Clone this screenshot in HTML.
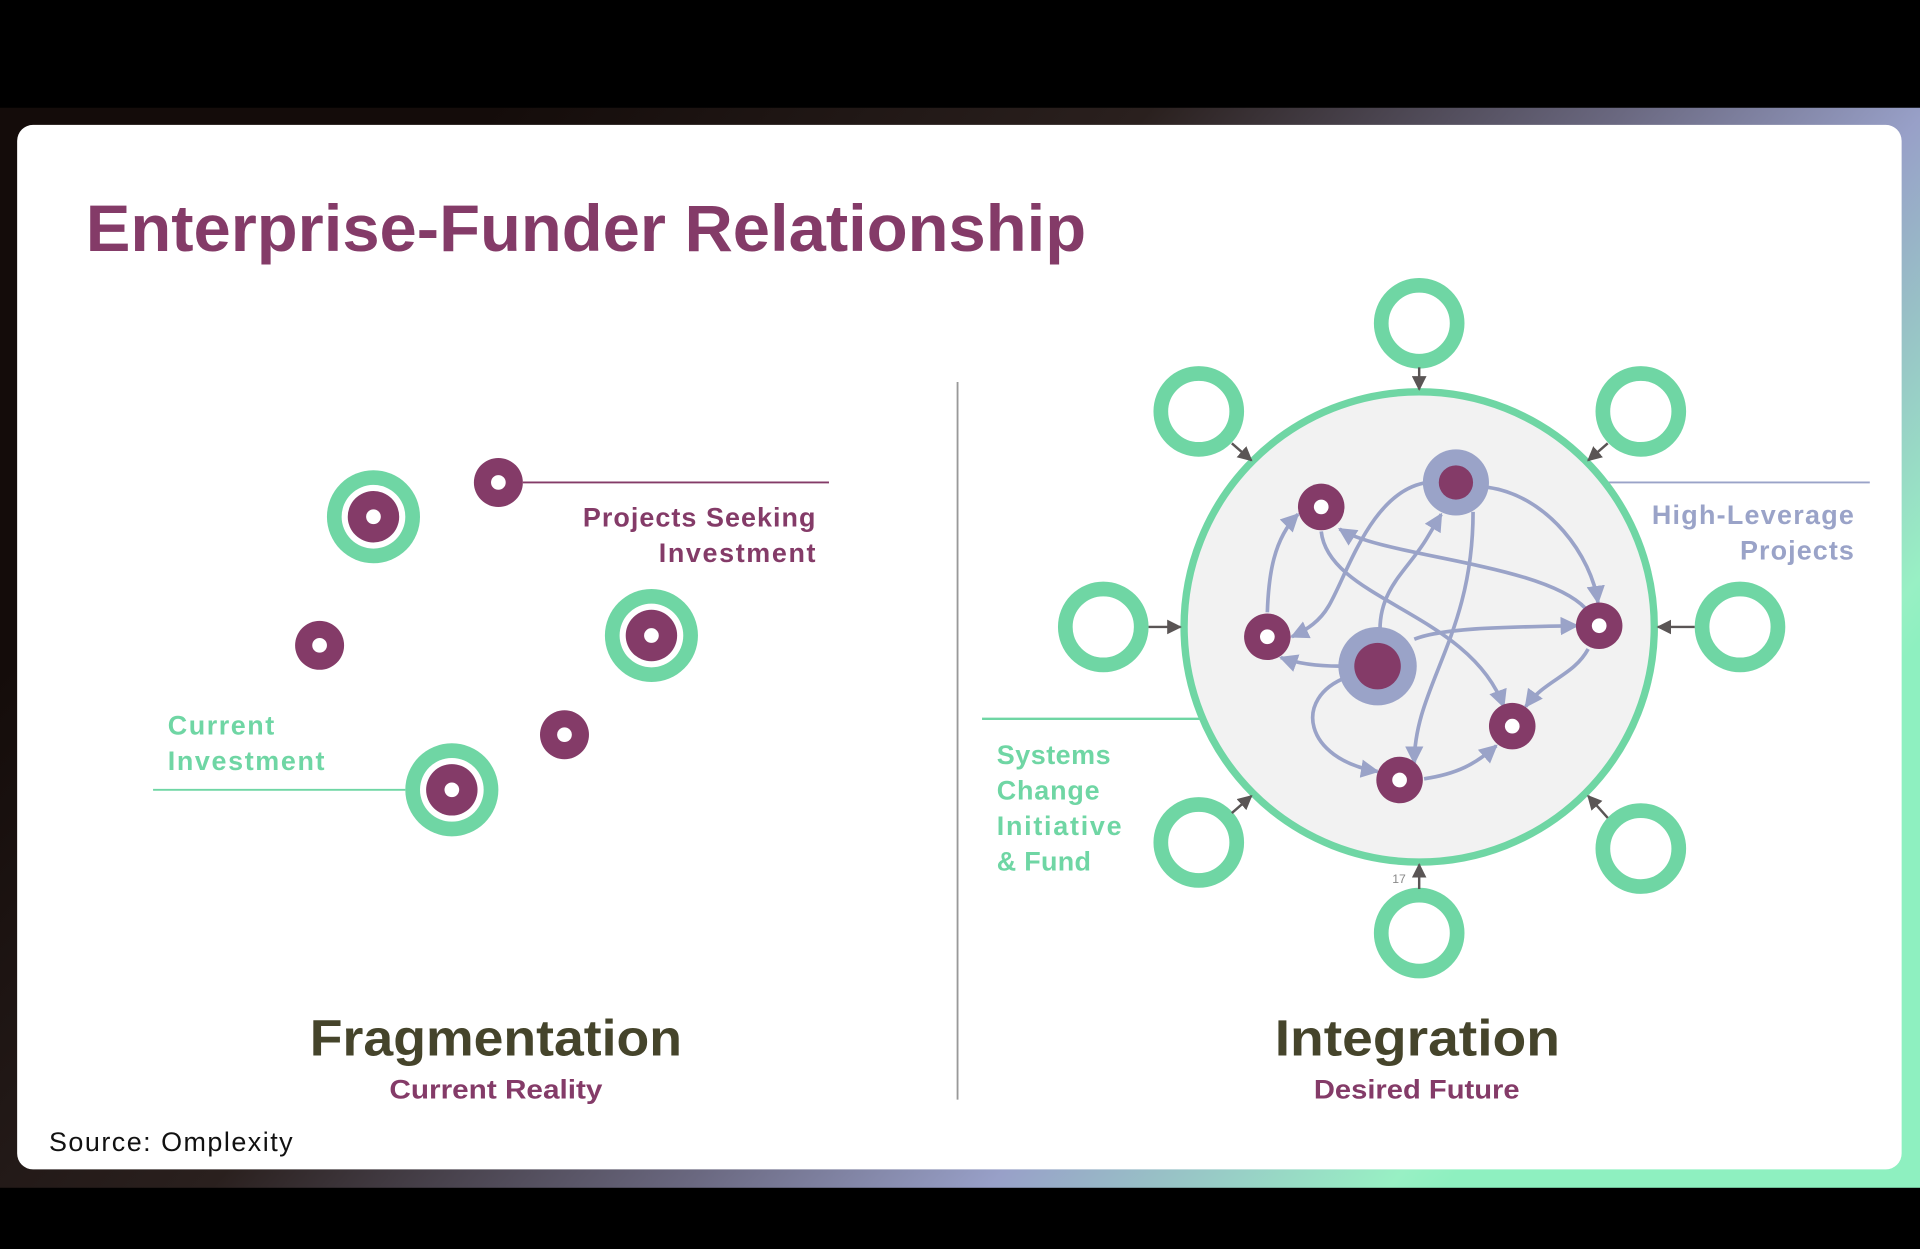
<!DOCTYPE html>
<html><head><meta charset="utf-8"><style>
html,body{margin:0;padding:0;background:#000;width:1920px;height:1249px;overflow:hidden}
svg{display:block}
text{font-family:"Liberation Sans",sans-serif}
</style></head><body>
<svg width="1920" height="1249" viewBox="0 0 1568 1020" preserveAspectRatio="none" xmlns="http://www.w3.org/2000/svg">
<defs>
<linearGradient id="bg" gradientUnits="userSpaceOnUse" x1="300" y1="200" x2="1182" y2="968">
<stop offset="0" stop-color="#140c0a"/><stop offset="0.35" stop-color="#2a201e"/>
<stop offset="0.6" stop-color="#6a6880"/><stop offset="0.76" stop-color="#98a0c8"/>
<stop offset="0.97" stop-color="#98f0c4"/><stop offset="1" stop-color="#8ef0c0"/>
</linearGradient>
<marker id="la" viewBox="0 0 10 10" refX="9" refY="5" markerWidth="5" markerHeight="5" orient="auto" markerUnits="strokeWidth"><path d="M0,0L10,5L0,10z" fill="#9aa3c8"/></marker>
<marker id="ga" viewBox="0 0 10 10" refX="9" refY="5" markerWidth="6" markerHeight="6" orient="auto" markerUnits="strokeWidth"><path d="M0,0L10,5L0,10z" fill="#5a5555"/></marker>
</defs>
<rect x="0" y="0" width="1568" height="1020" fill="#000"/>
<rect x="0" y="88" width="1568" height="882" fill="url(#bg)"/>
<rect x="14" y="102" width="1539" height="853" rx="13" fill="#fff"/>
<text x="70" y="205" font-size="54" font-weight="bold" fill="#843b68" textLength="817" lengthAdjust="spacingAndGlyphs">Enterprise-Funder Relationship</text>
<line x1="782" y1="312" x2="782" y2="898" stroke="#999" stroke-width="1.5"/>

<!-- left -->
<line x1="427" y1="394" x2="677" y2="394" stroke="#843b68" stroke-width="1.5"/>
<line x1="125" y1="645" x2="331" y2="645" stroke="#6fd6a4" stroke-width="1.5"/>
<g>
<circle cx="305" cy="422" r="38" fill="#6fd6a4"/><circle cx="305" cy="422" r="26" fill="#fff"/><circle cx="305" cy="422" r="21" fill="#843b68"/><circle cx="305" cy="422" r="6" fill="#fff"/>
<circle cx="532" cy="519" r="38" fill="#6fd6a4"/><circle cx="532" cy="519" r="26" fill="#fff"/><circle cx="532" cy="519" r="21" fill="#843b68"/><circle cx="532" cy="519" r="6" fill="#fff"/>
<circle cx="369" cy="645" r="38" fill="#6fd6a4"/><circle cx="369" cy="645" r="26" fill="#fff"/><circle cx="369" cy="645" r="21" fill="#843b68"/><circle cx="369" cy="645" r="6" fill="#fff"/>
<circle cx="407" cy="394" r="20" fill="#843b68"/><circle cx="407" cy="394" r="6" fill="#fff"/>
<circle cx="261" cy="527" r="20" fill="#843b68"/><circle cx="261" cy="527" r="6" fill="#fff"/>
<circle cx="461" cy="600" r="20" fill="#843b68"/><circle cx="461" cy="600" r="6" fill="#fff"/>
</g>
<g font-size="22" font-weight="bold" fill="#843b68" lengthAdjust="spacingAndGlyphs">
<text x="476" y="430" textLength="190">Projects Seeking</text><text x="538" y="459" textLength="128">Investment</text></g>
<g font-size="22" font-weight="bold" fill="#6fd6a4">
<text x="137" y="600" textLength="87">Current</text><text x="137" y="629" textLength="128">Investment</text></g>
<text x="253" y="862" font-size="42" font-weight="bold" fill="#45442b" textLength="304" lengthAdjust="spacingAndGlyphs">Fragmentation</text>
<text x="318" y="897" font-size="22" font-weight="bold" fill="#843b68" textLength="174" lengthAdjust="spacingAndGlyphs">Current Reality</text>
<text x="1041" y="862" font-size="42" font-weight="bold" fill="#45442b" textLength="233" lengthAdjust="spacingAndGlyphs">Integration</text>
<text x="1073" y="897" font-size="22" font-weight="bold" fill="#843b68" textLength="168" lengthAdjust="spacingAndGlyphs">Desired Future</text>
<text x="40" y="940" font-size="22" fill="#111" textLength="199">Source: Omplexity</text>

<!-- right -->
<line x1="802" y1="587" x2="980" y2="587" stroke="#6fd6a4" stroke-width="2"/>
<line x1="1215" y1="394" x2="1527" y2="394" stroke="#9aa3c8" stroke-width="1.5"/>
<circle cx="1159" cy="512" r="192" fill="#f2f2f2" stroke="#6fd6a4" stroke-width="6"/>
<g fill="none" stroke="#6fd6a4" stroke-width="12">
<circle cx="1159" cy="264" r="31"/><circle cx="979" cy="336" r="31"/><circle cx="1340" cy="336" r="31"/>
<circle cx="901" cy="512" r="31"/><circle cx="1421" cy="512" r="31"/><circle cx="979" cy="688" r="31"/>
<circle cx="1340" cy="693" r="31"/><circle cx="1159" cy="762" r="31"/></g>
<g stroke="#5a5555" stroke-width="2" marker-end="url(#ga)">
<line x1="1159" y1="300" x2="1159" y2="318"/>
<line x1="1006" y1="362" x2="1022" y2="376"/>
<line x1="1313" y1="362" x2="1297" y2="376"/>
<line x1="938" y1="512" x2="964" y2="512"/>
<line x1="1384" y1="512" x2="1354" y2="512"/>
<line x1="1006" y1="664" x2="1022" y2="650"/>
<line x1="1313" y1="668" x2="1297" y2="650"/>
<line x1="1159" y1="726" x2="1159" y2="706"/>
</g>
<text x="1137" y="721" font-size="10" fill="#888">17</text>
<g fill="none" stroke="#9aa3c8" stroke-width="3" marker-end="url(#la)">
<path d="M1035,500 C1036,470 1040,440 1060,420"/>
<path d="M1166,394 C1120,400 1100,470 1085,495 C1078,507 1068,514 1055,520"/>
<path d="M1127,514 C1127,480 1150,465 1165,440 L1177,420"/>
<path d="M1079,434 C1085,490 1200,500 1228,577"/>
<path d="M1295,497 C1260,460 1130,455 1094,432"/>
<path d="M1215,398 C1265,405 1300,455 1305,492"/>
<path d="M1203,418 C1203,520 1155,560 1155,623"/>
<path d="M1155,522 C1180,512 1240,512 1288,511"/>
<path d="M1094,544 C1075,544 1060,542 1046,537"/>
<path d="M1100,553 C1055,570 1065,620 1125,630"/>
<path d="M1163,636 C1190,632 1205,624 1222,609"/>
<path d="M1297,530 C1285,552 1262,555 1246,577"/>
</g>
<circle cx="1189" cy="394" r="27" fill="#9aa3c8"/><circle cx="1189" cy="394" r="14" fill="#843b68"/>
<circle cx="1125" cy="544" r="32" fill="#9aa3c8"/><circle cx="1125" cy="544" r="19" fill="#843b68"/>
<g fill="#843b68">
<circle cx="1079" cy="414" r="19"/><circle cx="1035" cy="520" r="19"/><circle cx="1306" cy="511" r="19"/>
<circle cx="1235" cy="593" r="19"/><circle cx="1143" cy="637" r="19"/></g>
<g fill="#fff">
<circle cx="1079" cy="414" r="6"/><circle cx="1035" cy="520" r="6"/><circle cx="1306" cy="511" r="6"/>
<circle cx="1235" cy="593" r="6"/><circle cx="1143" cy="637" r="6"/></g>
<g font-size="22" font-weight="bold" fill="#9aa3c8" lengthAdjust="spacingAndGlyphs">
<text x="1349" y="428" textLength="165">High-Leverage</text><text x="1421" y="457" textLength="93">Projects</text></g>
<g font-size="22" font-weight="bold" fill="#6fd6a4" lengthAdjust="spacingAndGlyphs">
<text x="814" y="624" textLength="93">Systems</text><text x="814" y="653" textLength="84">Change</text><text x="814" y="682" textLength="102">Initiative</text><text x="814" y="711" textLength="77">&amp; Fund</text></g>
</svg>
</body></html>
